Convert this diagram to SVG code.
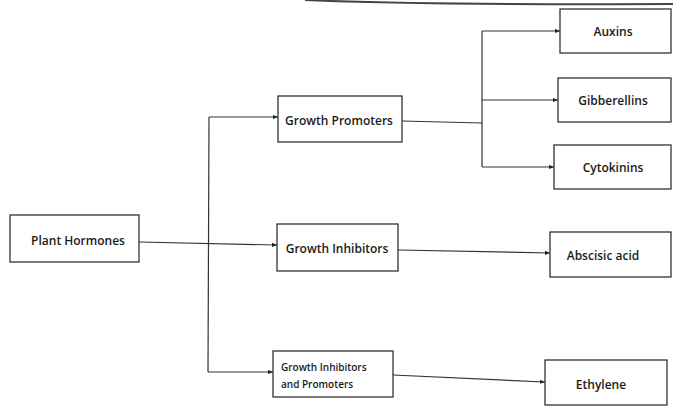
<svg xmlns="http://www.w3.org/2000/svg" width="673" height="408" viewBox="0 0 673 408">
<defs>
<marker id="ah" viewBox="0 0 6 6" refX="6" refY="3" markerWidth="5" markerHeight="5" orient="auto" markerUnits="userSpaceOnUse">
<path d="M0,0.5 L6,3 L0,5.5 z" fill="#222"/>
</marker>
<style>
.box{fill:#fff;stroke:#333;stroke-width:1.3}
.t{font-family:"Open Sans","Liberation Sans",sans-serif;font-size:12px;font-weight:600;fill:#1a1a1a;text-anchor:middle;dominant-baseline:central}
.s{font-family:"Open Sans","Liberation Sans",sans-serif;font-size:10px;font-weight:600;fill:#1a1a1a;dominant-baseline:central}
.c{fill:none;stroke:#333;stroke-width:1.2}
.a{marker-end:url(#ah)}
</style>
</defs>
<rect width="673" height="408" fill="#fff"/>
<path d="M305,0 Q420,5 673,4" fill="none" stroke="#444" stroke-width="2"/>
<g id="connectors">
<path class="c a" d="M139,242 L277,245"/>
<path class="c" d="M209,117 L208,372"/>
<path class="c a" d="M209,117 L278,117"/>
<path class="c a" d="M208,372 L273,372"/>
<path class="c" d="M402,121 L482,123"/>
<path class="c" d="M482,31 L482,167"/>
<path class="c a" d="M482,31 L560,31"/>
<path class="c a" d="M482,100 L558,100"/>
<path class="c a" d="M482,167 L554,167"/>
<path class="c a" d="M398,250 L550,253"/>
<path class="c a" d="M393,375 L545,382"/>
</g>
<g id="plant-hormones"><rect class="box" x="10" y="215" width="129" height="47"/><text class="t" x="78" y="240">Plant Hormones</text></g>
<g id="growth-promoters"><rect class="box" x="278" y="96" width="124" height="46"/><text class="t" x="339" y="120">Growth Promoters</text></g>
<g id="growth-inhibitors"><rect class="box" x="277" y="224" width="121" height="47"/><text class="t" x="337" y="248">Growth Inhibitors</text></g>
<g id="growth-inhibitors-promoters"><rect class="box" x="273" y="351" width="120" height="46"/><text class="s" x="281" y="367">Growth Inhibitors</text><text class="s" x="281" y="384">and Promoters</text></g>
<g id="auxins"><rect class="box" x="560" y="9" width="111" height="44"/><text class="t" x="613" y="31">Auxins</text></g>
<g id="gibberellins"><rect class="box" x="558" y="78" width="113" height="44"/><text class="t" x="613" y="100">Gibberellins</text></g>
<g id="cytokinins"><rect class="box" x="554" y="145" width="117" height="44"/><text class="t" x="613" y="167">Cytokinins</text></g>
<g id="abscisic-acid"><rect class="box" x="550" y="232" width="121" height="45"/><text class="t" x="603" y="255">Abscisic acid</text></g>
<g id="ethylene"><rect class="box" x="545" y="360" width="122" height="45"/><text class="t" x="601" y="384">Ethylene</text></g>
</svg>
